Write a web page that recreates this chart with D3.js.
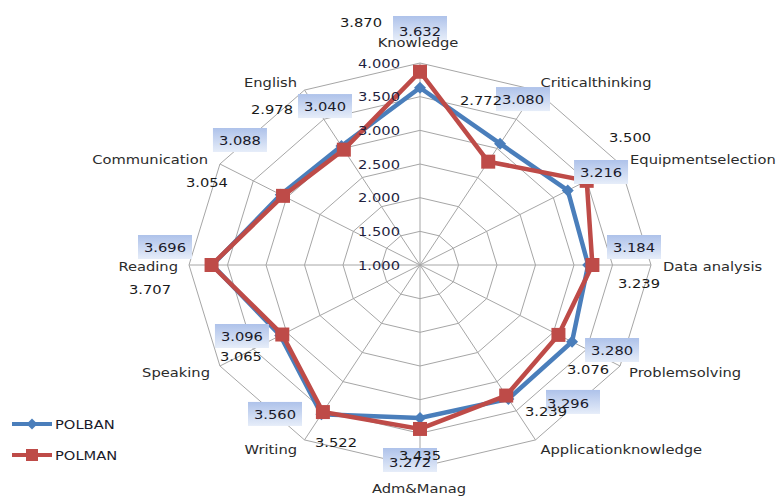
<!DOCTYPE html>
<html>
<head>
<meta charset="utf-8">
<script src="https://cdn.jsdelivr.net/npm/d3@7"></script>
<style>
  html, body { margin: 0; padding: 0; background: #fff; }
  svg { display: block; }
  text { font-family: "DejaVu Sans", sans-serif; font-size: 13px; }
</style>
</head>
<body>
<svg id="chart" width="778" height="496"></svg>
<script>
// ---- Data ----
const categories = ["Knowledge", "Criticalthinking", "Equipmentselection", "Data analysis",
  "Problemsolving", "Applicationknowledge", "Adm&Manag", "Writing", "Speaking",
  "Reading", "Communication", "English"];
const polban = [3.632, 3.080, 3.216, 3.184, 3.280, 3.296, 3.272, 3.560, 3.096, 3.696, 3.088, 3.040];
const polman = [3.870, 2.772, 3.500, 3.239, 3.076, 3.239, 3.435, 3.522, 3.065, 3.707, 3.054, 2.978];
const tickValues = [1.0, 1.5, 2.0, 2.5, 3.0, 3.5, 4.0];
const seriesNames = ["POLBAN", "POLMAN"];

// ---- Layout (offsets from each axis' outer vertex) ----
const catLayout = [
  {dx: -2, dy: -21, a: "middle"}, {dx: 5, dy: -8, a: "start"}, {dx: 10, dy: -5, a: "start"},
  {dx: 12, dy: 1, a: "start"}, {dx: 9, dy: 6, a: "start"}, {dx: 5, dy: 9, a: "start"},
  {dx: -1, dy: 21, a: "middle"}, {dx: -7.5, dy: 9, a: "end"}, {dx: -10, dy: 6, a: "end"},
  {dx: -11, dy: 1, a: "end"}, {dx: -12, dy: -5, a: "end"}, {dx: -7.5, dy: -8, a: "end"}
];
const blueLabelOff = [[0,-32],[-12.5,9],[-19,8],[-17,-18],[-8,-16],[32.5,-37],[-10,-5],[-29.5,-26],[22,-30],[-24,-18],[20,-24],[20.5,16]];
const blueBoxShift = [[0,-3],[0,0],[0,0],[0,0],[0,0],[5,-1],[0,-2],[0,0],[0,0],[0,0],[0,0],[0,0]];
const redLabelOff = [[-59,-41],[-54.5,10],[10,-27],[-12,18],[-32,3],[10.5,-29],[0,-12],[31.5,2],[21,-10],[-39,24],[-13,18],[-32.5,19]];

const cx = 420, cy = 265;
const blue = "#4A7EBB", red = "#BE4B48";
const SX = 1.13;

const svg = d3.select("#chart");
const rX = d3.scaleLinear().domain([1, 4]).range([0, 231]);
const rY = d3.scaleLinear().domain([1, 4]).range([0, 202]);
const angle = d3.scaleLinear().domain([0, categories.length]).range([0, 2 * Math.PI]);

const px = (i, v) => cx + rX(v) * Math.sin(angle(i));
const py = (i, v) => cy - rY(v) * Math.cos(angle(i));

const defs = svg.append("defs");
const grad = defs.append("linearGradient").attr("id", "boxGrad")
  .attr("x1", 0).attr("y1", 0).attr("x2", 0).attr("y2", 1);
grad.append("stop").attr("offset", "0%").attr("stop-color", "#aec2ea");
grad.append("stop").attr("offset", "100%").attr("stop-color", "#e6edf9");

// ---- Grid ----
const grid = svg.append("g");
tickValues.filter(t => t > 1).forEach(t => {
  const pts = categories.map((c, i) => [px(i, t), py(i, t)]);
  grid.append("path")
    .attr("d", d3.line().curve(d3.curveLinearClosed)(pts))
    .attr("fill", "none").attr("stroke", "#a6a6a6").attr("stroke-width", 1);
});
categories.forEach((c, i) => {
  grid.append("line")
    .attr("x1", px(i, 1)).attr("y1", py(i, 1))
    .attr("x2", px(i, 4)).attr("y2", py(i, 4))
    .attr("stroke", "#a6a6a6").attr("stroke-width", 1);
});

// ---- Series ----
const lineGen = d3.line().curve(d3.curveLinearClosed);
function drawSeries(vals, color, symbol, size, rot) {
  const g = svg.append("g");
  g.append("path")
    .attr("d", lineGen(vals.map((v, i) => [px(i, v), py(i, v)])))
    .attr("fill", "none").attr("stroke", color).attr("stroke-width", 4.5)
    .attr("stroke-linejoin", "miter");
  g.selectAll("path.m").data(vals).join("path").attr("class", "m")
    .attr("d", d3.symbol().type(symbol).size(size))
    .attr("transform", (v, i) => `translate(${px(i, v)},${py(i, v)}) rotate(${rot})`)
    .attr("fill", color);
}
drawSeries(polban, blue, d3.symbolSquare, 72, 45);
drawSeries(polman, red, d3.symbolSquare, 196, 0);

const tx = (x, y) => `translate(${x},${y}) scale(${SX},1)`;
const fmt = d3.format(".3f");

// ---- Boxes behind the POLBAN data labels ----
svg.append("g").selectAll("rect").data(polban).join("rect")
  .attr("x", (v, i) => px(i, 4) + blueLabelOff[i][0] + blueBoxShift[i][0] - 27)
  .attr("y", (v, i) => py(i, 4) + blueLabelOff[i][1] + blueBoxShift[i][1] - 12)
  .attr("width", 54).attr("height", 24)
  .attr("fill", "url(#boxGrad)");

// tick labels
svg.append("g").selectAll("text").data(tickValues).join("text")
  .attr("transform", d => tx(400, cy - rY(d)))
  .attr("text-anchor", "end").attr("dominant-baseline", "central")
  .attr("fill", "#1f1f3f")
  .text(d => d3.format(".3f")(d));

// ---- Category labels ----
svg.append("g").selectAll("text").data(categories).join("text")
  .attr("transform", (c, i) => tx(px(i, 4) + catLayout[i].dx, py(i, 4) + catLayout[i].dy))
  .attr("text-anchor", (c, i) => catLayout[i].a)
  .attr("dominant-baseline", "central")
  .attr("fill", "#2b2b2b")
  .text(c => c);

// ---- Data labels ----
svg.append("g").selectAll("text").data(polban).join("text")
  .attr("transform", (v, i) => tx(px(i, 4) + blueLabelOff[i][0], py(i, 4) + blueLabelOff[i][1]))
  .attr("text-anchor", "middle").attr("dominant-baseline", "central")
  .attr("fill", "#1a1a2a")
  .text(v => fmt(v));
svg.append("g").selectAll("text").data(polman).join("text")
  .attr("transform", (v, i) => tx(px(i, 4) + redLabelOff[i][0], py(i, 4) + redLabelOff[i][1]))
  .attr("text-anchor", "middle").attr("dominant-baseline", "central")
  .attr("fill", "#1a1a1a")
  .text(v => fmt(v));

// ---- Legend ----
const legend = svg.append("g");
const legY = [424, 455];
const legColors = [blue, red];
seriesNames.forEach((n, k) => {
  legend.append("line").attr("x1", 12).attr("x2", 52).attr("y1", legY[k]).attr("y2", legY[k])
    .attr("stroke", legColors[k]).attr("stroke-width", 4);
  legend.append("path")
    .attr("d", d3.symbol().type(d3.symbolSquare).size(k === 0 ? 60 : 144))
    .attr("transform", `translate(32,${legY[k]}) rotate(${k === 0 ? 45 : 0})`)
    .attr("fill", legColors[k]);
  legend.append("text").attr("transform", tx(55, legY[k]))
    .attr("dominant-baseline", "central").attr("fill", "#1a1a2a")
    .text(n);
});
</script>
</body>
</html>
